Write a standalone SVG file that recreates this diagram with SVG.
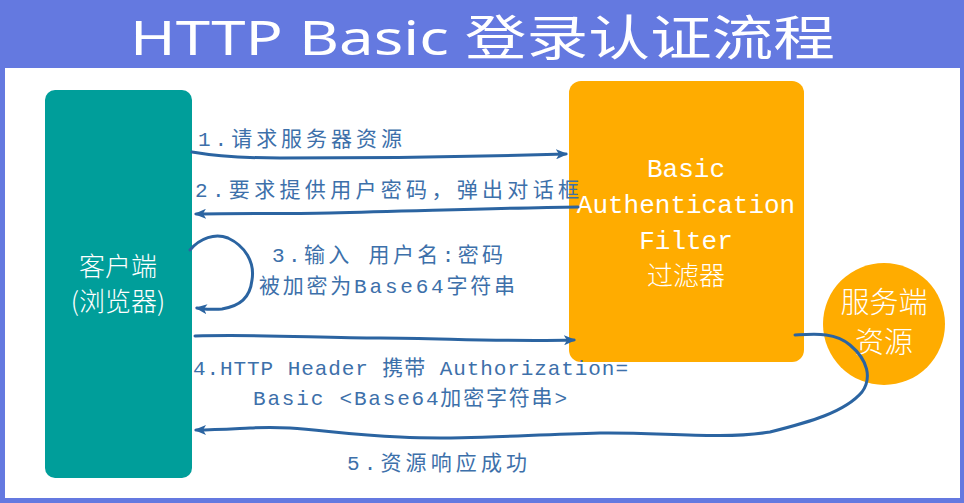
<svg xmlns="http://www.w3.org/2000/svg" width="964" height="503" viewBox="0 0 964 503">
<defs>
<style>
.lbl{font-family:"Liberation Mono","Noto Sans CJK SC",monospace;font-size:21px;fill:#3d70aa}
.wt{fill:#ffffff}
.cjk{font-family:"Noto Sans CJK SC",sans-serif;font-weight:300}
.mono{font-family:"Liberation Mono",monospace;font-size:26px}
.conn path{fill:none;stroke:#2b64a1;stroke-width:3;stroke-linecap:round}
</style>
<marker id="ah" viewBox="0 0 12 10" refX="10" refY="5" markerWidth="12" markerHeight="10" markerUnits="userSpaceOnUse" orient="auto">
<path d="M0,0 L12,5 L0,10 L3,5 Z" fill="#2b64a1"/>
</marker>
</defs>
<rect x="0" y="0" width="964" height="503" fill="#6479e0"/>
<rect x="5" y="68" width="955" height="430" fill="#ffffff"/>
<g id="title">
<text x="130" y="55" font-family="'Noto Sans','Noto Sans CJK SC',sans-serif" font-size="48" class="wt" textLength="705" lengthAdjust="spacingAndGlyphs">HTTP Basic 登录认证流程</text>
</g>
<g id="client">
<rect x="45" y="90" width="147" height="388" rx="10" fill="#009e9a"/>
<text x="118" y="276" text-anchor="middle" font-size="26" class="wt cjk">客户端</text>
<text x="118" y="311" text-anchor="middle" font-size="26" class="wt cjk">(浏览器)</text>
</g>
<g id="filter">
<rect x="569" y="81" width="235" height="281" rx="12" fill="#ffac00"/>
<text x="686" y="177" text-anchor="middle" class="wt mono">Basic</text>
<text x="686" y="213" text-anchor="middle" class="wt mono">Authentication</text>
<text x="686" y="249" text-anchor="middle" class="wt mono">Filter</text>
<text x="686" y="285" text-anchor="middle" font-size="26" class="wt cjk">过滤器</text>
</g>
<g id="resource">
<circle cx="884" cy="324" r="61" fill="#ffac00"/>
<text x="884" y="313" text-anchor="middle" font-size="29" class="wt cjk">服务端</text>
<text x="884" y="353" text-anchor="middle" font-size="29" class="wt cjk">资源</text>
</g>
<g id="connectors" class="conn">
<path d="M192,152 C215,156 240,158 280,158 C400,158 500,156 566,154" marker-end="url(#ah)"/>
<path d="M578,207 C500,208 420,211 330,213 C280,214 240,213 196,214" marker-end="url(#ah)"/>
<path d="M190,250 C200,238 215,233 228,238 C245,246 255,262 252,280 C250,298 240,306 222,309 C212,310 205,309 197,308" marker-end="url(#ah)"/>
<path d="M195,336 C260,334 320,338 380,338 C440,338 500,342 574,340" marker-end="url(#ah)"/>
<path d="M795,335 C815,334 835,332 850,345 C868,360 872,378 862,392 C845,412 810,422 770,432 C720,440 660,432 600,433 C520,435 460,440 400,437 C330,434 300,425 250,428 C230,429 215,430 196,430" marker-end="url(#ah)"/>
</g>
<g id="labels">
<text x="198" y="146" class="lbl" textLength="204">1.请求服务器资源</text>
<text x="195" y="197" class="lbl" textLength="384">2.要求提供用户密码，弹出对话框</text>
<text x="272" y="262" class="lbl" textLength="231">3.输入 用户名:密码</text>
<text x="259" y="293" class="lbl" textLength="256">被加密为Base64字符串</text>
<text x="193" y="375" class="lbl" textLength="435">4.HTTP Header 携带 Authorization=</text>
<text x="253" y="405" class="lbl" textLength="314">Basic &lt;Base64加密字符串&gt;</text>
<text x="347" y="470" class="lbl" textLength="180">5.资源响应成功</text>
</g>
</svg>
